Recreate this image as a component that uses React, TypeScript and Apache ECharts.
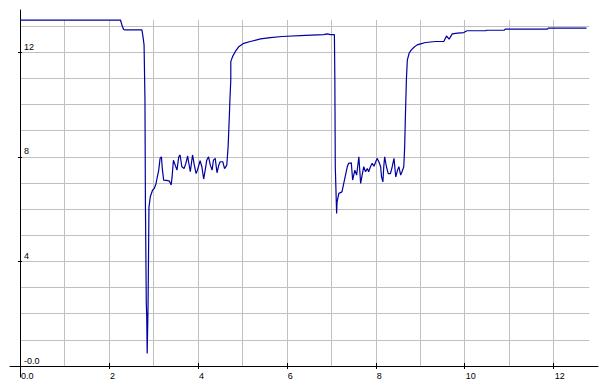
import React, { useEffect, useRef } from "react";
import * as echarts from "echarts";

// ---- data (x, value) ----
const initialPlateau: [number, number][] = [
  [0, 13.23], [2.26, 13.23], [2.29, 13.05], [2.33, 12.87], [2.36, 12.85],
  [2.74, 12.85], [2.76, 12.66], [2.79, 12.28], [2.81, 10.17],
];
const firstDip: [number, number][] = [
  [2.82, 6.3], [2.84, 2.4], [2.85, 1.9], [2.86, 0.48], [2.875, 1.87], [2.88, 2.4], [2.9, 6.07],
];
const firstNoisy: [number, number][] = [
  [2.93, 6.47], [2.98, 6.72], [3.02, 6.79], [3.06, 6.98], [3.08, 7.17], [3.12, 7.49],
  [3.15, 7.94], [3.18, 8.0], [3.2, 7.55], [3.23, 7.11], [3.3, 7.1], [3.36, 7.07],
  [3.4, 6.92], [3.42, 7.23], [3.45, 7.87], [3.49, 7.68], [3.53, 7.49], [3.57, 8.0],
  [3.6, 8.07], [3.64, 7.62], [3.69, 7.55], [3.73, 7.75], [3.77, 8.03], [3.79, 7.81],
  [3.83, 7.43], [3.88, 8.07], [3.92, 7.68], [3.96, 7.36], [3.99, 7.49], [4.05, 7.85],
  [4.09, 7.62], [4.13, 7.15], [4.17, 7.55], [4.2, 7.87], [4.24, 8.0], [4.28, 7.68],
  [4.32, 7.49], [4.35, 7.87], [4.39, 7.94], [4.43, 7.39], [4.47, 7.68], [4.5, 7.81],
  [4.56, 7.81], [4.6, 7.55], [4.65, 7.68], [4.68, 8.38], [4.71, 9.66], [4.72, 10.17],
];
const firstRecovery: [number, number][] = [
  [4.74, 10.94], [4.74, 11.64], [4.78, 11.83], [4.84, 12.02], [4.92, 12.21],
  [5.03, 12.34], [5.18, 12.41], [5.41, 12.51], [5.63, 12.56], [5.89, 12.6],
  [6.42, 12.64], [6.83, 12.67], [6.91, 12.7], [6.98, 12.67], [7.07, 12.67],
];
const secondNoisy: [number, number][] = [
  [7.08, 11.0], [7.09, 7.62], [7.12, 5.83], [7.13, 6.28], [7.17, 6.6], [7.24, 6.66],
  [7.28, 6.98], [7.32, 7.3], [7.36, 7.62], [7.39, 7.75], [7.45, 7.77], [7.48, 7.11],
  [7.53, 7.49], [7.57, 7.3], [7.62, 8.0], [7.66, 6.98], [7.7, 7.36], [7.73, 7.62],
  [7.77, 7.43], [7.81, 7.55], [7.84, 7.43], [7.88, 7.62], [7.92, 7.75], [7.96, 7.64],
  [8.0, 7.81], [8.03, 7.94], [8.07, 7.81], [8.11, 7.62], [8.13, 7.23], [8.16, 7.04],
  [8.18, 7.62], [8.2, 8.0], [8.24, 7.62], [8.28, 7.36], [8.33, 7.36], [8.37, 7.62],
  [8.41, 7.94], [8.45, 7.23], [8.49, 7.49], [8.52, 7.62], [8.56, 7.3], [8.59, 7.43],
  [8.63, 7.62], [8.65, 8.38], [8.67, 9.79], [8.69, 11.0], [8.71, 11.7],
];
const finalRecovery: [number, number][] = [
  [8.75, 11.96], [8.8, 12.09], [8.86, 12.19], [8.93, 12.28], [9.01, 12.32],
  [9.12, 12.37], [9.23, 12.39], [9.35, 12.41], [9.53, 12.41], [9.59, 12.62],
  [9.65, 12.5], [9.72, 12.7], [9.84, 12.73], [9.98, 12.75], [10.05, 12.82],
  [10.47, 12.82], [10.49, 12.84], [10.89, 12.84], [10.91, 12.88], [11.86, 12.88],
  [11.88, 12.92], [12.74, 12.92],
];

const xLabelStep = 2;
const yLabelStep = 4;
const xZeroLabel = "0.0";
const yZeroLabel = "-0.0";

// ---- layout ----
const W = 608;
const H = 386;
const ORIGIN_X = 20;
const ORIGIN_Y = 366;
const PX_X = 44.47;
const PX_Y = 26.15;
const GRID_X_MAX = 12.8;
const GRID_TOP = 20;
const AXIS_LEFT = 10;
const AXIS_RIGHT = 598;
const AXIS_TOP = 10;
const AXIS_BOTTOM = 377;
const FONT = "'Liberation Sans', Arial, sans-serif";

export default function App() {
  const ref = useRef<HTMLDivElement>(null);
  useEffect(() => {
    document.body.style.margin = "0";
    const chart = echarts.init(ref.current!, null, { renderer: "svg" });
    const data = [
      ...initialPlateau, ...firstDip, ...firstNoisy,
      ...firstRecovery, ...secondNoisy, ...finalRecovery,
    ];
    const gridH = ORIGIN_Y - GRID_TOP;
    const hidden = {
      axisLine: { show: false, onZero: false },
      axisTick: { show: false },
      axisLabel: { show: false },
    };
    const gridLine = {
      show: true,
      showMinLine: false,
      showMaxLine: false,
      lineStyle: { color: "#C0C0C0", width: 1 },
    };
    chart.setOption({
      animation: false,
      backgroundColor: "#ffffff",
      grid: [
        { left: ORIGIN_X, top: GRID_TOP, width: GRID_X_MAX * PX_X, height: gridH, outerBoundsMode: "none" },
        { left: AXIS_LEFT, top: AXIS_TOP, right: W - AXIS_RIGHT, bottom: H - AXIS_BOTTOM, outerBoundsMode: "none" },
        { left: ORIGIN_X, top: ORIGIN_Y - 12 * PX_Y, width: 12 * PX_X, height: 12 * PX_Y, outerBoundsMode: "none" },
      ],
      xAxis: [
        { type: "value", gridIndex: 0, min: 0, max: GRID_X_MAX, interval: 1, splitLine: gridLine, ...hidden },
        {
          type: "value", gridIndex: 1,
          min: (AXIS_LEFT - ORIGIN_X) / PX_X, max: (AXIS_RIGHT - ORIGIN_X) / PX_X,
          axisLine: { show: true, onZero: true, lineStyle: { color: "#000", width: 1 } },
          axisTick: { show: false }, axisLabel: { show: false }, splitLine: { show: false },
        },
        {
          type: "value", gridIndex: 2, min: 0, max: 12, interval: xLabelStep,
          position: "bottom", offset: -3,
          axisLine: { show: false, onZero: false },
          axisTick: { show: true, inside: false, length: 6, lineStyle: { color: "#000", width: 1 } },
          axisLabel: {
            show: true, inside: false, margin: 8, align: "left",
            color: "#000", fontSize: 9, fontFamily: FONT, padding: [0, 0, 0, 1],
            formatter: (v: number) => (v === 0 ? xZeroLabel : String(v)),
          },
          splitLine: { show: false },
        },
      ],
      yAxis: [
        { type: "value", gridIndex: 0, min: 0, max: gridH / PX_Y, interval: 1, splitLine: gridLine, ...hidden },
        {
          type: "value", gridIndex: 1,
          min: -(AXIS_BOTTOM - ORIGIN_Y) / PX_Y, max: (ORIGIN_Y - AXIS_TOP) / PX_Y,
          axisLine: { show: true, onZero: true, lineStyle: { color: "#000", width: 1 } },
          axisTick: { show: false }, axisLabel: { show: false }, splitLine: { show: false },
        },
        {
          type: "value", gridIndex: 2, min: 0, max: 12, interval: yLabelStep,
          position: "left", offset: -2,
          axisLine: { show: false, onZero: false },
          axisTick: { show: true, inside: false, length: 4, lineStyle: { color: "#000", width: 1 } },
          axisLabel: {
            show: true, inside: true, margin: 2, align: "left", verticalAlign: "bottom",
            color: "#000", fontSize: 9, fontFamily: FONT, lineHeight: 11,
            formatter: (v: number) => (v === 0 ? yZeroLabel : String(v)),
          },
          splitLine: { show: false },
        },
      ],
      series: [
        {
          type: "line",
          xAxisIndex: 0,
          yAxisIndex: 0,
          data,
          showSymbol: false,
          clip: false,
          lineStyle: { color: "#0000A0", width: 1.2 },
          z: 5,
        },
      ],
    });
    return () => chart.dispose();
  }, []);
  return (
    <div
      ref={ref}
      style={{ width: W, height: H, position: "absolute", left: 0, top: 0, background: "#fff" }}
    />
  );
}
